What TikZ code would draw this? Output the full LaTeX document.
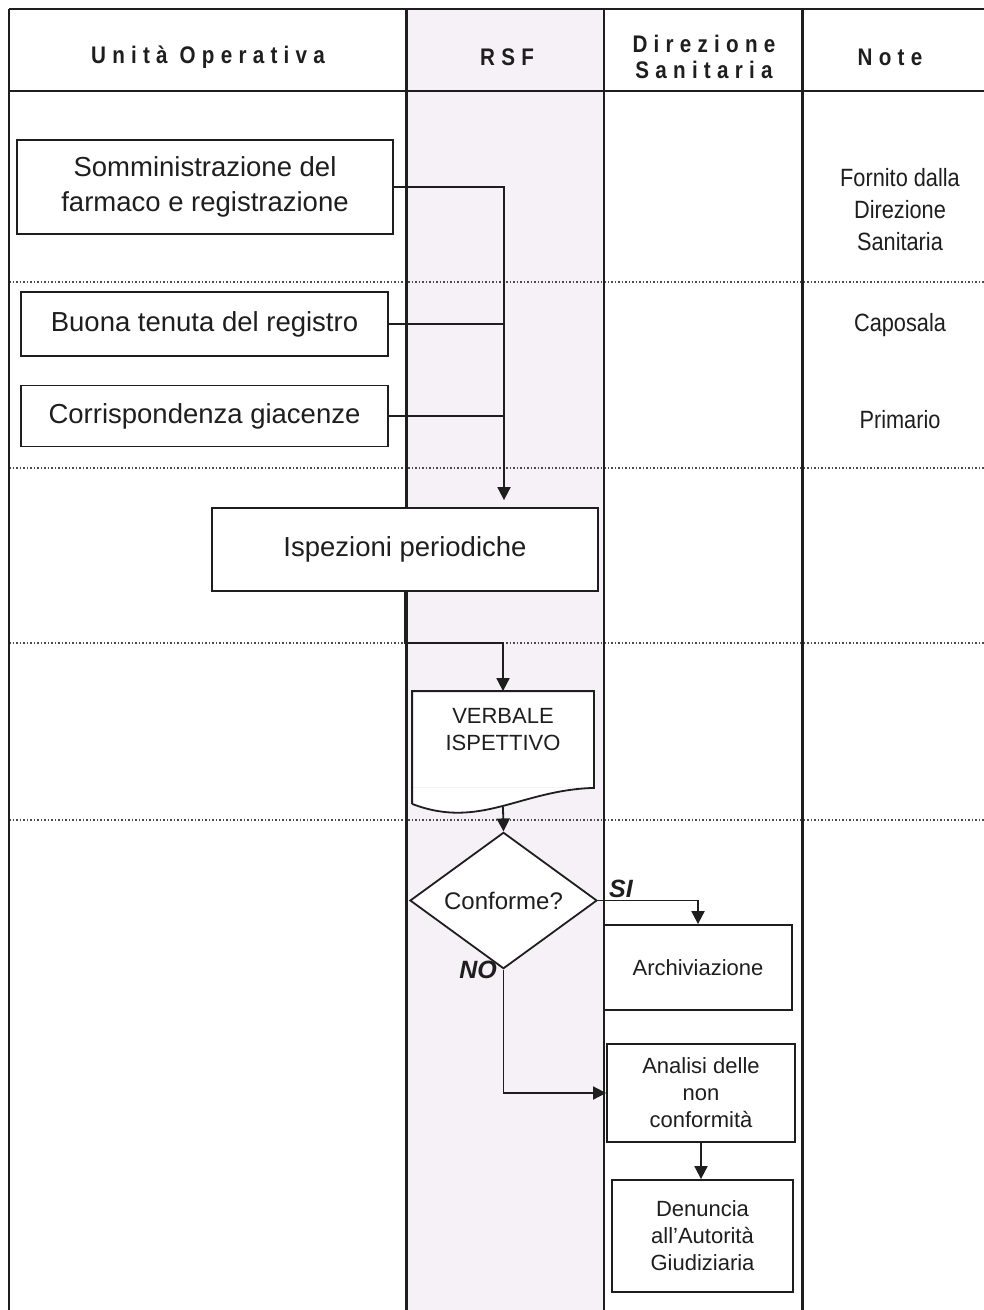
\documentclass[tikz,border=0pt]{standalone}
\usepackage{fontspec}
\setmainfont{Liberation Sans}
\newfontfamily\headfont[LetterSpace=26,FakeStretch=0.86]{Liberation Sans}
\newfontfamily\notefont[FakeStretch=0.87]{Liberation Sans}
\usepackage{tikz}
\usetikzlibrary{shapes.geometric,arrows.meta,calc}
\definecolor{lanepink}{RGB}{246,241,246}
\definecolor{ink}{RGB}{30,30,30}

\begin{document}
\begin{tikzpicture}[x=1pt,y=1pt]
\tikzstyle{every node}+=[inner sep=0pt, text=ink]
\tikzstyle{headtext}=[font=\headfont\bfseries\fontsize{24}{26}\selectfont, align=center]
\tikzstyle{bigbox}=[draw=ink, line width=1.8pt, fill=white, font=\fontsize{27.5}{35}\selectfont, align=center]
\tikzstyle{smallbox}=[draw=ink, line width=1.8pt, fill=white, font=\fontsize{22}{27}\selectfont, align=center]
\tikzstyle{notetext}=[font=\notefont\fontsize{25}{32}\selectfont, align=center]
\tikzstyle{answer}=[font=\bfseries\itshape\fontsize{25}{28}\selectfont]
\tikzstyle{flow}=[draw=ink, line width=1.8pt]
\tikzstyle{flowarrow}=[flow, -{Triangle[width=13pt,length=13pt]}]
\tikzstyle{laneline}=[draw=ink, line width=3pt]
\tikzstyle{rowline}=[draw=ink!80, line width=1.3pt, dash pattern=on 1.5pt off 2pt]
\useasboundingbox (0,0) rectangle (984,-1310);
% lanes and rows
\fill [lanepink] (406,-9) rectangle (604,-1310);
\draw [rowline] (9,-282) -- (984,-282);
\draw [rowline] (9,-468) -- (984,-468);
\draw [rowline] (9,-643) -- (984,-643);
\draw [rowline] (9,-820) -- (984,-820);
\draw [laneline] (406,-9) -- (406,-1310);
\draw [flow] (604,-9) -- (604,-1310);
\draw [laneline] (802,-9) -- (802,-1310);
\draw [flow] (9,-9) -- (9,-1310);
\draw [ink, line width=2pt] (9,-9) -- (984,-9);
\draw [ink, line width=2pt] (9,-91) -- (984,-91);
% headers
\node [headtext] (hUO) at (208,-57) {Unità Operativa};
\node [headtext] (hRSF) at (507,-57) {RSF};
\node [headtext] (hDS) at (704,-57) {Direzione\\Sanitaria};
\node [headtext] (hNote) at (890,-57) {Note};
% notes
\node [notetext] (nFornito) at (900,-210) {Fornito dalla\\Direzione\\Sanitaria};
\node [notetext] (nCaposala) at (900,-325) {Caposala};
\node [notetext] (nPrimario) at (900,-420) {Primario};
% steps
\node [bigbox, minimum width=376, minimum height=94] (somm) at (205,-187) {Somministrazione del\\farmaco e registrazione};
\node [bigbox, minimum width=367, minimum height=64] (buona) at (204.5,-324) {Buona tenuta del registro};
\node [bigbox, minimum width=367, minimum height=61] (corr) at (204.5,-416) {Corrispondenza giacenze};
\node [bigbox, minimum width=386, minimum height=83] (isp) at (405,-549.5) {Ispezioni periodiche};
\node [smallbox, draw=none, minimum width=180, minimum height=95] (verb) at (503,-739.5) {VERBALE\\ISPETTIVO\\[-6pt]\mbox{}};
\fill [white] (verb.south east) .. controls (520,-790) and (480,-830) .. ($(verb.south west)+(0,-16)$) -- (verb.south west) -- cycle;
\draw [flow] ($(verb.south west)+(0,-16)$) -- (verb.north west) -- (verb.north east) -- (verb.south east) .. controls (520,-790) and (480,-830) .. ($(verb.south west)+(0,-16)$);
\node [smallbox, diamond, minimum width=187, minimum height=115, font=\fontsize{24}{28}\selectfont] (conf) at (503.5,-900.5) {Conforme?};
\node [smallbox, minimum width=188, minimum height=85] (arch) at (698,-967.5) {Archiviazione};
\node [smallbox, minimum width=188, minimum height=98] (anal) at (701,-1093) {Analisi delle\\non\\conformità};
\node [smallbox, minimum width=181, minimum height=112] (den) at (702.5,-1236) {Denuncia\\all’Autorità\\Giudiziaria};
\node [answer] (si) at (621,-889) {SI};
\node [answer] (no) at (478,-970) {NO};
% connectors
\coordinate (rsfmid) at (504,0);
\coordinate (row4) at (0,-643);
\draw [flowarrow, shorten >=7pt] (somm.east) -| (rsfmid |- isp.north);
\draw [flow] (buona.east) -- (buona.east -| rsfmid);
\draw [flow] (corr.east) -- (corr.east -| rsfmid);
\draw [flowarrow] (isp.south) -- (isp.south |- row4) -| (verb.north);
\draw [flowarrow] ($(verb.south)+(0,-19)$) -- (conf.north);
\draw [flowarrow] (conf.east) -| (arch.north);
\draw [flowarrow] (conf.south) |- (anal.west);
\draw [flowarrow] (anal.south) -- (anal.south |- den.north);
\end{tikzpicture}
\end{document}
